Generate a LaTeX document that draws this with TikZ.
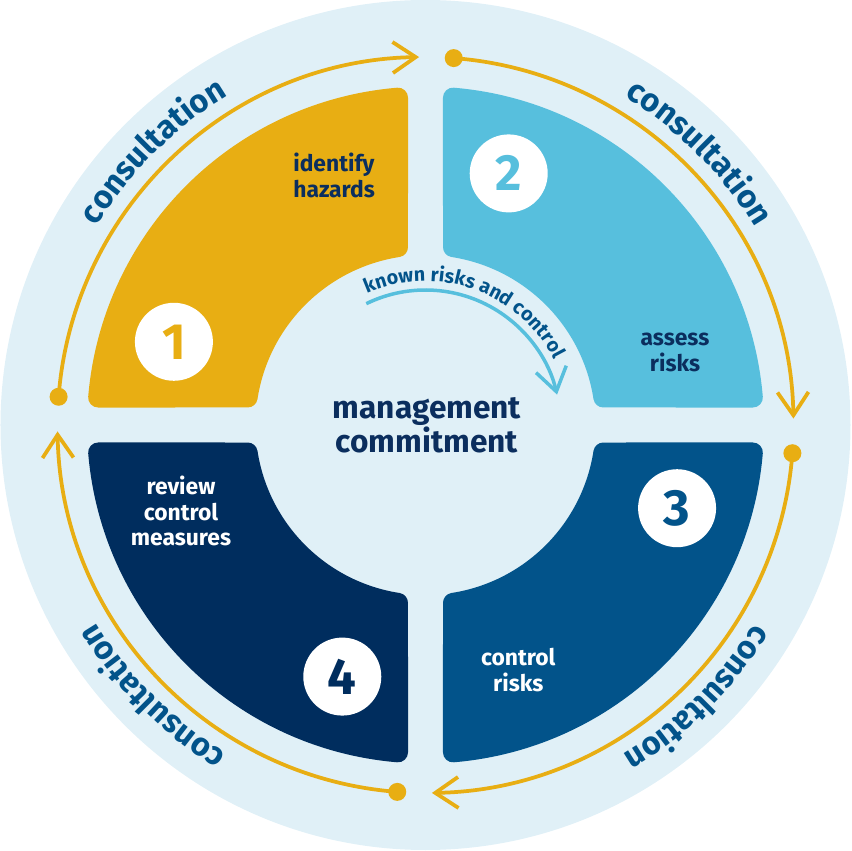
\documentclass[tikz,border=0pt]{standalone}
\usepackage{fontspec}
\setmainfont{Fira Sans}
\usetikzlibrary{arrows.meta,decorations.text}
\definecolor{bgblue}{HTML}{E0F0F7}
\definecolor{gold}{HTML}{E8AE13}
\definecolor{skyq}{HTML}{57BFDD}
\definecolor{midq}{HTML}{02538A}
\definecolor{navyq}{HTML}{002D5E}
\definecolor{txtnavy}{HTML}{0B2E5E}
\newcommand\consfont{\bfseries\fontsize{18.5}{18.5}\selectfont}
\newcommand\knownfont{\bfseries\fontsize{11.2}{11.2}\selectfont}
\begin{document}
\begin{tikzpicture}[x=0.02cm,y=0.02cm,
  quad/.style={line width=0.4cm,line join=round},
  numdisc/.style={circle,fill=white,minimum size=1.56cm,inner sep=0pt,font=\bfseries\fontsize{29}{29}\selectfont},
  qlabel/.style={inner sep=0pt,font=\bfseries\fontsize{13}{14.4}\selectfont},
  titlelabel/.style={inner sep=0pt,align=center,text=txtnavy,font=\bfseries\fontsize{18}{18.2}\selectfont},
  orangearc/.style={draw=gold,line width=0.075cm,-{Straight Barb[length=0.46cm,width=0.62cm]}},
  bluearc/.style={draw=skyq,line width=0.07cm,-{Straight Barb[length=0.46cm,width=0.62cm]}}]
\useasboundingbox (-425.5,-426) rectangle (426.5,425);
\fill[bgblue] (0,0) circle[radius=425];
% quadrants
\foreach \k/\col in {0/gold,1/skyq,2/midq,3/navyq}{
  \filldraw[quad,fill=\col,draw=\col]
    ({94.80-90*\k}:328.5) arc[start angle={94.80-90*\k},end angle={175.20-90*\k},radius=328.5]
    -- ({171.21-90*\k}:180) arc[start angle={171.21-90*\k},end angle={98.79-90*\k},radius=180]
    -- cycle;
}
% number discs
\foreach \k/\col/\n in {0/gold/1,1/skyq/2,2/midq/3,3/navyq/4}{
  \node[numdisc,text=\col] (num\n) at ({161.7-90*\k}:265) {\n};
}
% labels
\node[qlabel,text=txtnavy,align=left,anchor=west] (lab1) at (-132.5,249.5) {identify\\hazards};
\node[qlabel,text=txtnavy,align=center] (lab2) at (249.5,72.5) {assess\\risks};
\node[qlabel,text=white,align=center] (lab3) at (92.8,-245) {control\\risks};
\node[qlabel,text=white,align=center] (lab4) at (-244.5,-86) {review\\control\\measures};
\node[titlelabel] (mc) at (1.5,0) {management\\commitment};
% orange consultation arrows
\foreach \k in {0,1,2,3}{
  \coordinate (s\k) at ({175.6-90*\k}:368);
  \draw[orangearc] (s\k) arc[start angle={175.6-90*\k},end angle={91-90*\k},radius=368];
  \fill[gold] (s\k) circle[radius=9];
}
% consultation texts
\foreach \c in {135,45,-45,-135}{
  \path[decorate,decoration={text along path,text={|\consfont|consultation},text color=midq,text align={fit to path}}]
    ({\c+13.8}:384) arc[start angle={\c+13.8},end angle={\c-13.8},radius=384];
}
% known risks arrow
\coordinate (ka) at (116:135);
\draw[bluearc] (ka) arc[start angle=116,end angle=13,radius=135];
\path[decorate,decoration={text along path,text={|\knownfont|known risks and control},text color=midq,text align={fit to path}}]
  (114:144) arc[start angle=114,end angle=27,radius=144];
\end{tikzpicture}
\end{document}
